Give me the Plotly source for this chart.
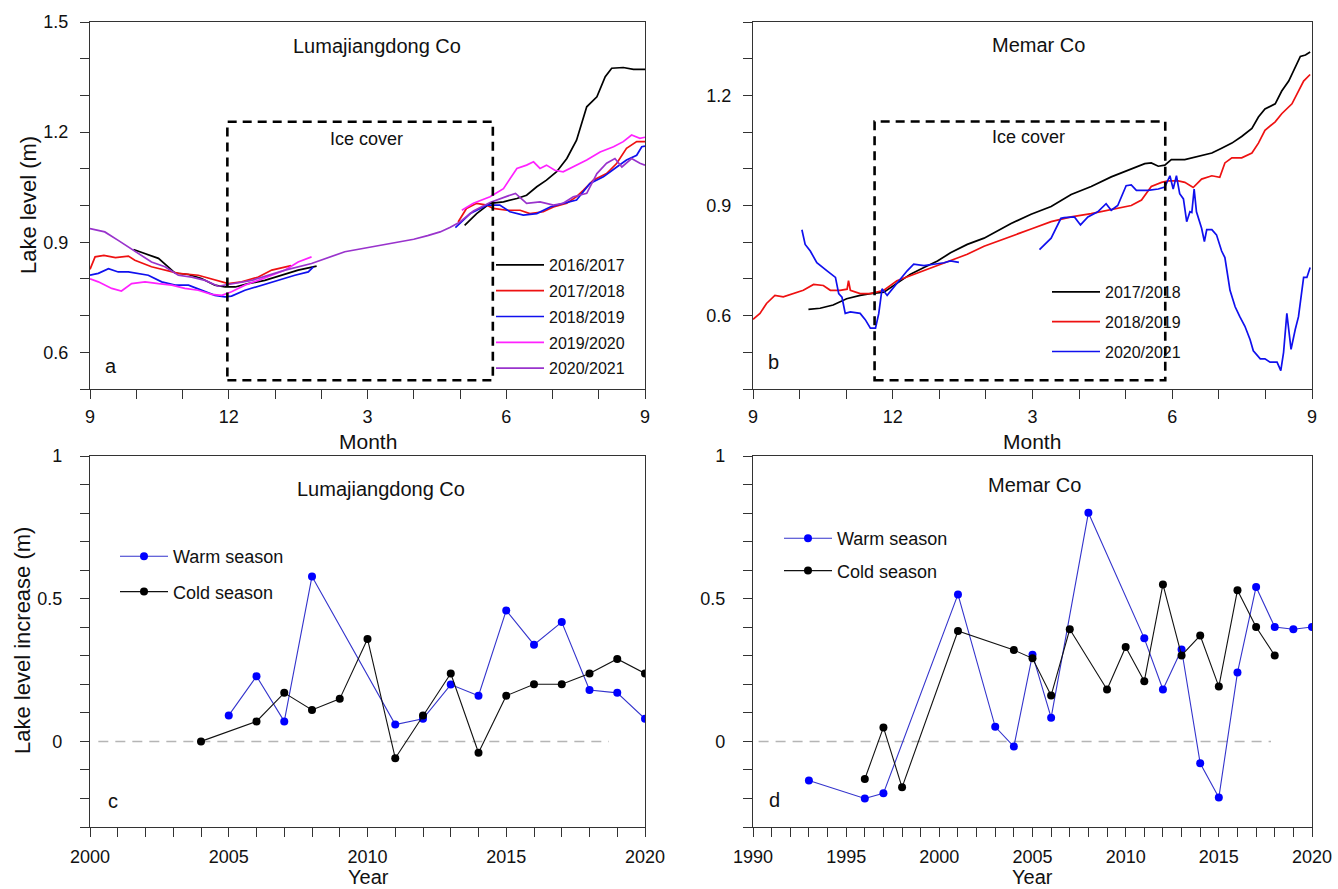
import plotly.graph_objects as go

W, H = 1338, 889
FONT = "Liberation Sans, Arial, sans-serif"

# ---------------- Panel a: Lumajiangdong Co (x = months after 1 Sep) ----------------
A_2016_T = [0.94, 1.05, 1.19, 1.3, 1.48, 1.69, 1.84, 2.13, 2.41, 2.7, 2.92, 3.14, 3.42, 3.78, 4.14, 4.5, 4.9,
            None,
            8.1, 8.36, 8.65, 8.94, 9.23, 9.44, 9.66, 9.87, 10.09, 10.31, 10.52, 10.74, 10.96, 11.14, 11.28, 11.53, 11.75, 12.0]
A_2016_V = [0.88, 0.875, 0.869, 0.865, 0.856, 0.833, 0.816, 0.812, 0.801, 0.783, 0.778, 0.778, 0.787, 0.796, 0.81, 0.824, 0.835,
            None,
            0.946, 0.978, 1.006, 1.01, 1.019, 1.028, 1.051, 1.069, 1.092, 1.128, 1.178, 1.269, 1.296, 1.351, 1.374, 1.376, 1.371, 1.371]

A_2017_T = [0, 0.11, 0.3, 0.55, 0.83, 0.97, 1.33, 1.62, 1.91, 2.34, 2.77, 2.99, 3.28, 3.64, 3.93, 4.22, 4.35,
            None,
            7.96, 8.14, 8.36, 8.58, 8.72, 9.01, 9.3, 9.51, 9.8, 10.02, 10.31, 10.52, 10.67, 10.88, 11.17, 11.39, 11.6, 11.82, 12.0]
A_2017_V = [0.826, 0.86, 0.864, 0.858, 0.862, 0.851, 0.833, 0.824, 0.815, 0.81, 0.796, 0.787, 0.792, 0.805, 0.824, 0.833, 0.836,
            None,
            0.955, 0.992, 1.006, 1.001, 0.992, 0.987, 0.987, 0.978, 0.983, 0.996, 1.006, 1.024, 1.042, 1.069, 1.087, 1.115, 1.156, 1.174, 1.174]

A_2018_T = [0, 0.18, 0.4, 0.61, 0.83, 1.05, 1.26, 1.55, 1.84, 2.13, 2.41, 2.7, 2.92, 3.06, 3.35, 3.71, 4.07, 4.43, 4.72, 4.83,
            None,
            7.9, 8.22, 8.58, 8.86, 9.08, 9.37, 9.66, 9.95, 10.23, 10.52, 10.81, 11.1, 11.39, 11.6, 11.82, 11.93, 12.0]
A_2018_V = [0.81, 0.815, 0.828, 0.819, 0.819, 0.815, 0.81, 0.792, 0.783, 0.783, 0.769, 0.755, 0.751, 0.753, 0.769, 0.783, 0.796, 0.81, 0.819, 0.833,
            None,
            0.94, 0.978, 1.001, 1.001, 0.983, 0.974, 0.978, 0.996, 1.006, 1.015, 1.06, 1.078, 1.105, 1.124, 1.137, 1.16, 1.162]

A_2019_T = [0, 0.18, 0.47, 0.68, 0.9, 1.19, 1.48, 1.77, 2.05, 2.34, 2.63, 2.85, 3.06, 3.35, 3.64, 3.93, 4.22, 4.5, 4.79,
            None,
            8.04, 8.29, 8.65, 8.94, 9.23, 9.44, 9.59, 9.73, 9.87, 10.05, 10.23, 10.45, 10.74, 11.03, 11.32, 11.53, 11.71, 11.89, 12.0]
A_2019_V = [0.8, 0.792, 0.774, 0.767, 0.787, 0.792, 0.787, 0.783, 0.774, 0.769, 0.758, 0.755, 0.765, 0.783, 0.796, 0.81, 0.824, 0.846, 0.86,
            None,
            0.987, 1.006, 1.024, 1.046, 1.101, 1.11, 1.119, 1.101, 1.11, 1.096, 1.092, 1.105, 1.124, 1.146, 1.16, 1.174, 1.192, 1.183, 1.186]

A_2020_T = [0, 0.32, 0.61, 0.83, 1.04, 1.33, 1.62, 1.91, 2.2, 2.49, 2.77, 2.92, 3.1, 3.5, 4.22, 4.79, 5.51, 6.0, 6.5, 7.0,
            7.3, 7.57, 7.78, 8.0, 8.29, 8.65, 9.01, 9.2, 9.44, 9.73, 10.02, 10.23, 10.45, 10.74, 10.96, 11.17, 11.35, 11.5, 11.71, 11.89, 12.0]
A_2020_V = [0.937, 0.928, 0.905, 0.887, 0.87, 0.846, 0.833, 0.81, 0.805, 0.796, 0.78, 0.783, 0.786, 0.796, 0.824, 0.842, 0.874, 0.885, 0.895, 0.908,
            0.918, 0.928, 0.94, 0.955, 0.985, 1.008, 1.025, 1.033, 1.006, 1.01, 1.001, 1.006, 1.024, 1.033, 1.087, 1.115, 1.128, 1.105, 1.128, 1.115, 1.11]

# ---------------- Panel b: Memar Co ----------------
B_2017_T = [1.19, 1.44, 1.72, 2.01, 2.3, 2.52, 2.81, 3.09, 3.38, 3.67, 3.96, 4.24, 4.6, 4.96, 5.29, 5.54, 5.97, 6.4, 6.83, 7.26, 7.69,
            8.12, 8.41, 8.55, 8.7, 8.84, 8.98, 9.27, 9.56, 9.85, 10.06, 10.28, 10.49, 10.71, 10.85, 10.99, 11.21, 11.35, 11.5, 11.64, 11.75, 11.86, 11.96]
B_2017_V = [0.617, 0.62, 0.629, 0.646, 0.655, 0.66, 0.664, 0.687, 0.713, 0.731, 0.749, 0.771, 0.794, 0.811, 0.834, 0.851, 0.876, 0.897, 0.93, 0.952, 0.978,
            1.0, 1.014, 1.016, 1.007, 1.01, 1.025, 1.025, 1.034, 1.043, 1.056, 1.07, 1.088, 1.11, 1.141, 1.163, 1.177, 1.212, 1.239, 1.275, 1.306, 1.31, 1.318]

B_2018_T = [0, 0.15, 0.29, 0.47, 0.65, 0.87, 1.08, 1.3, 1.51, 1.66, 1.87, 2.02, 2.05, 2.09, 2.3, 2.52, 2.81, 3.09, 3.38, 3.67, 3.96,
            4.24, 4.6, 4.96, 5.25, 5.54, 5.97, 6.4, 6.83, 7.26, 7.69, 8.12, 8.34, 8.55, 8.77, 8.91, 9.13, 9.27, 9.45, 9.63, 9.85,
            10.02, 10.13, 10.28, 10.49, 10.71, 10.85, 10.99, 11.21, 11.35, 11.57, 11.71, 11.82, 11.96]
B_2018_V = [0.59, 0.606, 0.633, 0.655, 0.651, 0.66, 0.669, 0.685, 0.682, 0.669, 0.669, 0.672, 0.695, 0.669, 0.66, 0.66, 0.669, 0.695, 0.709, 0.722, 0.736,
            0.749, 0.767, 0.789, 0.802, 0.816, 0.836, 0.856, 0.869, 0.878, 0.89, 0.9, 0.915, 0.952, 0.963, 0.967, 0.967, 0.963, 0.949, 0.972, 0.981,
            0.977, 1.016, 1.03, 1.03, 1.043, 1.07, 1.105, 1.128, 1.15, 1.177, 1.212, 1.239, 1.257]

B_2020_T = [1.05, 1.12, 1.23, 1.37, 1.59, 1.77, 1.84, 1.91, 1.98, 2.09, 2.3, 2.41, 2.52, 2.63, 2.7, 2.77, 2.88, 3.09, 3.31, 3.45, 3.67,
            3.88, 4.1, 4.24, 4.42,
            None,
            6.15, 6.4, 6.61, 6.68, 6.9, 7.03, 7.19, 7.4, 7.58, 7.69, 7.83, 8.01, 8.12, 8.23, 8.48, 8.7, 8.84, 8.95, 9.02, 9.09, 9.16,
            9.24, 9.31, 9.38, 9.42, 9.47, 9.52, 9.63, 9.69, 9.74, 9.85, 9.95, 10.06, 10.13, 10.24, 10.35, 10.45, 10.56, 10.67, 10.74,
            10.89, 10.99, 11.1, 11.25, 11.33, 11.39, 11.46, 11.55, 11.64, 11.71, 11.82, 11.89, 11.96]
B_2020_V = [0.834, 0.794, 0.776, 0.744, 0.722, 0.704, 0.66, 0.65, 0.606, 0.61, 0.606, 0.589, 0.566, 0.566, 0.606, 0.673, 0.655, 0.687, 0.722, 0.74, 0.736,
            0.74, 0.744, 0.749, 0.745,
            None,
            0.78, 0.811, 0.865, 0.867, 0.869, 0.847, 0.869, 0.883, 0.905, 0.887, 0.9, 0.954, 0.956, 0.941, 0.941, 0.945, 0.95, 0.981, 0.945, 0.981, 0.932,
            0.918, 0.856, 0.883, 0.881, 0.945, 0.883, 0.838, 0.802, 0.834, 0.834, 0.82, 0.776, 0.758, 0.669, 0.624, 0.597, 0.571, 0.535, 0.504,
            0.482, 0.482, 0.473, 0.473, 0.45, 0.5, 0.606, 0.508, 0.562, 0.597, 0.704, 0.704, 0.731]

# ---------------- Panel c: Lumajiangdong Co seasonal increase ----------------
C_WARM_YEAR = [2005, 2006, 2007, 2008, 2011, 2012, 2013, 2014, 2015, 2016, 2017, 2018, 2019, 2020]
C_WARM_VAL = [0.091, 0.228, 0.07, 0.578, 0.059, 0.079, 0.199, 0.16, 0.459, 0.339, 0.418, 0.18, 0.17, 0.079]
C_COLD_YEAR = [2004, 2006, 2007, 2008, 2009, 2010, 2011, 2012, 2013, 2014, 2015, 2016, 2017, 2018, 2019, 2020]
C_COLD_VAL = [0.0, 0.07, 0.17, 0.11, 0.149, 0.359, -0.059, 0.091, 0.238, -0.04, 0.16, 0.2, 0.2, 0.238, 0.289, 0.238]

# ---------------- Panel d: Memar Co seasonal increase ----------------
D_WARM_YEAR = [1993, 1996, 1997, 2001, 2003, 2004, 2005, 2006, 2008, 2011, 2012, 2013, 2014, 2015, 2016, 2017, 2018, 2019, 2020]
D_WARM_VAL = [-0.137, -0.2, -0.182, 0.515, 0.051, -0.018, 0.304, 0.083, 0.801, 0.361, 0.182, 0.322, -0.077, -0.197, 0.241, 0.541, 0.401, 0.393, 0.401]
D_COLD_YEAR = [1996, 1997, 1998, 2001, 2004, 2005, 2006, 2007, 2009, 2010, 2011, 2012, 2013, 2014, 2015, 2016, 2017, 2018]
D_COLD_VAL = [-0.132, 0.049, -0.161, 0.387, 0.32, 0.291, 0.161, 0.393, 0.182, 0.331, 0.211, 0.55, 0.301, 0.371, 0.192, 0.53, 0.401, 0.301]

MONTH_TICKS = [0, 3, 6, 9, 12]
MONTH_LABELS = ["9", "12", "3", "6", "9"]

# ice-cover boxes (month offset, lake level)
ICE_A = (2.97, 8.71, 0.524, 1.228)
ICE_B = (2.61, 8.85, 0.424, 1.129)

fig = go.Figure()

series_a = [("2016/2017", A_2016_T, A_2016_V, "#000000"),
            ("2017/2018", A_2017_T, A_2017_V, "#ee1111"),
            ("2018/2019", A_2018_T, A_2018_V, "#1010ee"),
            ("2019/2020", A_2019_T, A_2019_V, "#ff22ff"),
            ("2020/2021", A_2020_T, A_2020_V, "#9933cc")]
for name, t, v, c in series_a:
    fig.add_trace(go.Scatter(x=t, y=v, mode="lines", name=name, line=dict(color=c, width=1.7),
                             xaxis="x", yaxis="y", legend="legend", legendgroup="a" + name,
                             connectgaps=False))

series_b = [("2017/2018", B_2017_T, B_2017_V, "#000000"),
            ("2018/2019", B_2018_T, B_2018_V, "#ee1111"),
            ("2020/2021", B_2020_T, B_2020_V, "#1010ee")]
for name, t, v, c in series_b:
    fig.add_trace(go.Scatter(x=t, y=v, mode="lines", name=name, line=dict(color=c, width=1.7),
                             xaxis="x2", yaxis="y2", legend="legend2", legendgroup="b" + name,
                             connectgaps=False))

for (yr, val, name, lc, mc), (xa, ya, lg) in [
        ((C_WARM_YEAR, C_WARM_VAL, "Warm season", "#3333cc", "#0000ff"), ("x3", "y3", "legend3")),
        ((C_COLD_YEAR, C_COLD_VAL, "Cold season", "#111111", "#000000"), ("x3", "y3", "legend3")),
        ((D_WARM_YEAR, D_WARM_VAL, "Warm season", "#3333cc", "#0000ff"), ("x4", "y4", "legend4")),
        ((D_COLD_YEAR, D_COLD_VAL, "Cold season", "#111111", "#000000"), ("x4", "y4", "legend4"))]:
    fig.add_trace(go.Scatter(x=yr, y=val, mode="lines+markers", name=name,
                             line=dict(color=lc, width=1.1), marker=dict(color=mc, size=8),
                             xaxis=xa, yaxis=ya, legend=lg, legendgroup=lg + name))


def axis(domain, rng, tickvals, ticktext, minor_dtick, minor_tick0, anchor, standoff):
    return dict(domain=domain, range=rng, tickmode="array", tickvals=tickvals, ticktext=ticktext,
                ticks="outside", ticklen=9, tickwidth=1.2, tickcolor="#333",
                showline=True, linewidth=1.3, linecolor="#333", mirror=True, automargin=False,
                showgrid=False, zeroline=False, anchor=anchor, ticklabelstandoff=standoff,
                tickfont=dict(size=18, color="#111", family=FONT),
                minor=dict(dtick=minor_dtick, tick0=minor_tick0, ticks="outside", ticklen=9,
                           tickwidth=1.2, tickcolor="#333", showgrid=False))


XA = [90 / W, 645 / W]
XB = [753 / W, 1312 / W]
YTOP = [1 - 389 / H, 1 - 22 / H]
YBOT = [1 - 827 / H, 1 - 456 / H]

fig.update_layout(
    width=W, height=H, margin=dict(l=0, r=0, t=0, b=0, autoexpand=False),
    paper_bgcolor="white", plot_bgcolor="white",
    font=dict(family=FONT, color="#111", size=16),
    xaxis=axis(XA, [0, 12], MONTH_TICKS, MONTH_LABELS, 1, 0, "y", 2),
    yaxis=axis(YTOP, [0.5, 1.5], [0.6, 0.9, 1.2, 1.5], ["0.6", "0.9", "1.2", "1.5"], 0.1, 0.5, "x", 8),
    xaxis2=axis(XB, [0, 12], MONTH_TICKS, MONTH_LABELS, 1, 0, "y2", 2),
    yaxis2=axis(YTOP, [0.4, 1.4], [0.6, 0.9, 1.2], ["0.6", "0.9", "1.2"], 0.1, 0.4, "x2", 8),
    xaxis3=axis(XA, [2000, 2020], [2000, 2005, 2010, 2015, 2020], ["2000", "2005", "2010", "2015", "2020"], 1, 2000, "y3", 4),
    yaxis3=axis(YBOT, [-0.3, 1.0], [0, 0.5, 1], ["0", "0.5", "1"], 0.1, -0.3, "x3", 14),
    xaxis4=axis(XB, [1990, 2020], [1990, 1995, 2000, 2005, 2010, 2015, 2020], ["1990", "1995", "2000", "2005", "2010", "2015", "2020"], 1, 1990, "y4", 4),
    yaxis4=axis(YBOT, [-0.3, 1.0], [0, 0.5, 1], ["0", "0.5", "1"], 0.1, -0.3, "x4", 14),
    legend=dict(x=491 / W, y=1 - 248 / H, xanchor="left", yanchor="top", bgcolor="rgba(0,0,0,0)",
                font=dict(size=16), itemwidth=48, tracegroupgap=2),
    legend2=dict(x=1047 / W, y=1 - 275 / H, xanchor="left", yanchor="top", bgcolor="rgba(0,0,0,0)",
                 font=dict(size=16), itemwidth=48, tracegroupgap=6),
    legend3=dict(x=115 / W, y=1 - 538 / H, xanchor="left", yanchor="top", bgcolor="rgba(0,0,0,0)",
                 font=dict(size=18), itemwidth=48, tracegroupgap=9),
    legend4=dict(x=779 / W, y=1 - 520 / H, xanchor="left", yanchor="top", bgcolor="rgba(0,0,0,0)",
                 font=dict(size=18), itemwidth=48, tracegroupgap=6),
)

dash_box = dict(color="black", width=2.6, dash="9px,6px")
for (x0, x1, y0, y1), xr, yr in [(ICE_A, "x", "y"), (ICE_B, "x2", "y2")]:
    fig.add_shape(type="rect", xref=xr, yref=yr, x0=x0, x1=x1, y0=y0, y1=y1, line=dash_box,
                  fillcolor="rgba(0,0,0,0)", layer="above")

fig.add_shape(type="line", xref="x3", yref="y3", x0=2000.3, x1=2018.7, y0=0, y1=0,
              line=dict(color="#b5b5b5", width=1.5, dash="10px,7px"), layer="below")
fig.add_shape(type="line", xref="x4", yref="y4", x0=1990.3, x1=2017.8, y0=0, y1=0,
              line=dict(color="#b5b5b5", width=1.5, dash="10px,7px"), layer="below")

ann = []
def txt(x, y, s, xref, yref, size, angle=0):
    ann.append(dict(x=x, y=y, xref=xref, yref=yref, text=s, showarrow=False,
                    xanchor="center", yanchor="middle",
                    font=dict(size=size, family=FONT, color="#111"), textangle=angle))

txt(6.2, 1.434, "Lumajiangdong Co", "x", "y", 20)
txt(6.13, 1.337, "Memar Co", "x2", "y2", 20)
txt(2010.5, 0.883, "Lumajiangdong Co", "x3", "y3", 20)
txt(2005.1, 0.9, "Memar Co", "x4", "y4", 20)
txt(5.98, 1.18, "Ice cover", "x", "y", 18)
txt(5.92, 1.086, "Ice cover", "x2", "y2", 18)
txt(0.46, 0.563, "a", "x", "y", 20)
txt(0.45, 0.474, "b", "x2", "y2", 20)
txt(2000.83, -0.209, "c", "x3", "y3", 20)
txt(1991.17, -0.207, "d", "x4", "y4", 20)
# axis titles
txt(368 / W, 1 - 441 / H, "Month", "paper", "paper", 21)
txt(1032 / W, 1 - 441 / H, "Month", "paper", "paper", 21)
txt(368 / W, 1 - 877 / H, "Year", "paper", "paper", 20)
txt(1032 / W, 1 - 877 / H, "Year", "paper", "paper", 20)
txt(29 / W, 1 - 205 / H, "Lake level (m)", "paper", "paper", 22, -90)
txt(22 / W, 1 - 641 / H, "Lake level increase (m)", "paper", "paper", 22, -90)
fig.update_layout(annotations=ann)

fig.write_html("out.html", config={"displayModeBar": False},
               post_script="document.body.style.margin='0px';")
